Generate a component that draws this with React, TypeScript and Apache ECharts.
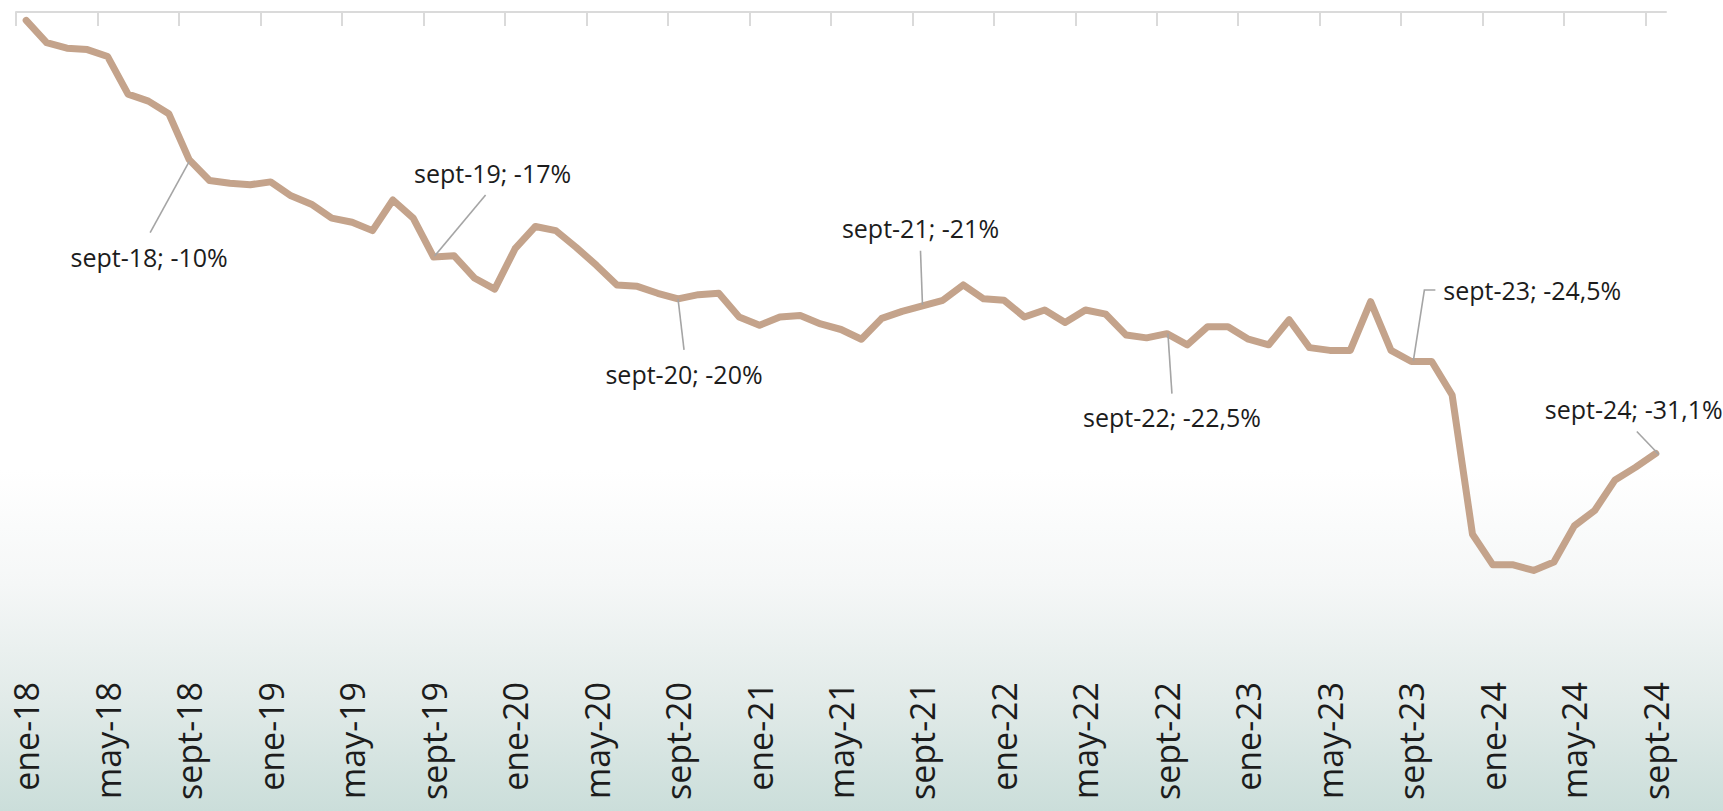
import React, { useEffect, useRef } from 'react';
import * as echarts from 'echarts';

// ---- data ----
const MONTHS = ['ene', 'feb', 'mar', 'abr', 'may', 'jun', 'jul', 'ago', 'sept', 'oct', 'nov', 'dic'];
const YEARS = ['18', '19', '20', '21', '22', '23', '24'];
const LAST_MONTH = 'sept-24';

const categories: string[] = [];
(() => {
  for (const y of YEARS) {
    for (const m of MONTHS) {
      categories.push(`${m}-${y}`);
      if (`${m}-${y}` === LAST_MONTH) return;
    }
  }
})();

// Variación acumulada (%) desde ene-18
const values = [
  0, -1.6, -2.0, -2.1, -2.6, -5.3, -5.8, -6.7, -10.0, -11.5,
  -11.7, -11.8, -11.6, -12.6, -13.2, -14.2, -14.5, -15.1, -12.9, -14.2,
  -17.0, -16.9, -18.5, -19.3, -16.4, -14.8, -15.1, -16.3, -17.6, -19.0,
  -19.1, -19.6, -20.0, -19.7, -19.6, -21.3, -21.9, -21.3, -21.2, -21.8,
  -22.2, -22.9, -21.4, -20.9, -20.5, -20.1, -19.0, -20.0, -20.1, -21.3,
  -20.8, -21.7, -20.8, -21.1, -22.6, -22.8, -22.5, -23.3, -22.0, -22.0,
  -22.9, -23.3, -21.5, -23.5, -23.7, -23.7, -20.2, -23.7, -24.5, -24.5,
  -26.9, -36.9, -39.1, -39.1, -39.5, -38.9, -36.3, -35.2, -33.0, -32.1,
  -31.1,
];

const annotatedCategories = ['sept-18', 'sept-19', 'sept-20', 'sept-21', 'sept-22', 'sept-23', 'sept-24'];
const annotationTexts = [
  'sept-18; -10%',
  'sept-19; -17%',
  'sept-20; -20%',
  'sept-21; -21%',
  'sept-22; -22,5%',
  'sept-23; -24,5%',
  'sept-24; -31,1%',
];

// ---- layout / style (offsets relative to the data point) ----
const ANNOT_LAYOUT: { line: number[][]; text: number[]; align: string }[] = [
  { line: [[0, 2], [-39, 73]], text: [-40, 97], align: 'center' },
  { line: [[1, -1], [52, -62]], text: [59, -84], align: 'center' },
  { line: [[0, 0], [6, 51]], text: [6, 75], align: 'center' },
  { line: [[0, -1], [-2, -55]], text: [-2, -78], align: 'center' },
  { line: [[1, 0], [5, 60]], text: [5, 83], align: 'center' },
  { line: [[2, -1], [13, -71.5], [24, -71.5]], text: [32, -71.5], align: 'left' },
  { line: [[3, 1], [-19, -22]], text: [-111, -44], align: 'left' },
];

const LINE_COLOR = '#c4a38b';
const AXIS_COLOR = '#dadada';
const TEXT_COLOR = '#1c1c1c';
const FONT = '"Open Sans", "Noto Sans", sans-serif';

export default function App() {
  const ref = useRef<HTMLDivElement>(null);

  useEffect(() => {
    if (!ref.current) return;
    const chart = echarts.init(ref.current, undefined, { renderer: 'svg' });

    const tickValues = categories
      .map((_, i) => i)
      .filter((i) => i % 4 === 0)
      .map((i) => i - 0.5);

    chart.setOption({
      animation: false,
      backgroundColor: 'transparent',
      grid: { left: 16, right: 57, top: 12, bottom: 164, containLabel: false },
      xAxis: [
        {
          type: 'category',
          data: categories,
          position: 'bottom',
          boundaryGap: true,
          axisLine: { show: false, onZero: false },
          axisTick: { show: false },
          splitLine: { show: false },
          axisLabel: {
            interval: 3,
            rotate: 90,
            margin: 35,
            fontFamily: FONT,
            fontSize: 34,
            color: TEXT_COLOR,
          },
        },
        {
          type: 'value',
          position: 'top',
          min: -0.5,
          max: categories.length - 0.5,
          axisLine: { show: true, onZero: false, lineStyle: { color: AXIS_COLOR, width: 2 } },
          axisTick: {
            show: true,
            inside: true,
            length: 14,
            customValues: tickValues,
            lineStyle: { color: AXIS_COLOR, width: 2 },
          },
          axisLabel: { show: false },
          splitLine: { show: false },
        },
      ],
      yAxis: {
        type: 'value',
        min: -45,
        max: 0.6,
        show: false,
        splitLine: { show: false },
      },
      series: [
        {
          type: 'line',
          xAxisIndex: 0,
          yAxisIndex: 0,
          data: values,
          symbol: 'none',
          clip: false,
          lineStyle: { color: LINE_COLOR, width: 7, cap: 'round', join: 'round' },
        },
      ],
    });

    const graphics: any[] = [];
    annotatedCategories.forEach((c, k) => {
      const idx = categories.indexOf(c);
      const p = chart.convertToPixel({ seriesIndex: 0 }, [idx, values[idx]]) as number[];
      const lay = ANNOT_LAYOUT[k];
      const pts = lay.line.map(([dx, dy]) => [p[0] + dx, p[1] + dy]);
      graphics.push({
        type: 'polyline',
        shape: { points: pts },
        style: { stroke: '#a5a5a5', lineWidth: 1.6, fill: 'none' },
        z: 10,
      });
      graphics.push({
        type: 'text',
        x: p[0] + lay.text[0],
        y: p[1] + lay.text[1],
        style: {
          text: annotationTexts[k],
          fill: TEXT_COLOR,
          fontSize: 25,
          fontFamily: FONT,
          align: lay.align,
          textAlign: lay.align,
          verticalAlign: 'middle',
          textVerticalAlign: 'middle',
        },
        z: 11,
      });
    });
    chart.setOption({ graphic: graphics });

    return () => chart.dispose();
  }, []);

  return (
    <div
      ref={ref}
      style={{
        position: 'fixed',
        left: 0,
        top: 0,
        width: 1723,
        height: 811,
        background:
          'linear-gradient(180deg, #ffffff 0%, #ffffff 58%, #f5f7f7 72%, #e2ebe9 86%, #cbdeda 100%)',
      }}
    />
  );
}
